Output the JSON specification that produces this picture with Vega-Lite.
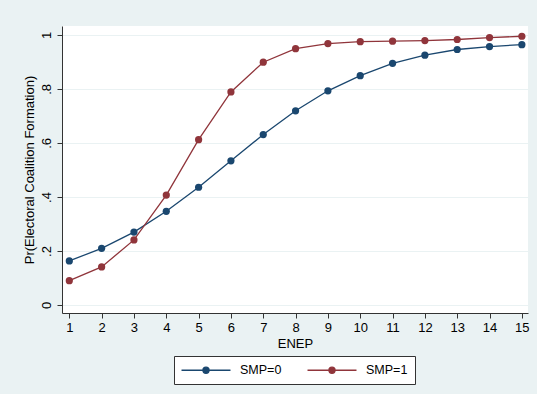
{
  "$schema": "https://vega.github.io/schema/vega-lite/v6.json",
  "width": 466,
  "height": 287,
  "autosize": {"type": "none"},
  "padding": {"left": 62, "top": 26, "right": 9, "bottom": 81},
  "background": "#eaf2f3",
  "config": {
    "view": {"stroke": null, "fill": "white"},
    "font": "Liberation Sans",
    "axis": {"labelFont": "Liberation Sans", "titleFont": "Liberation Sans", "labelFontSize": 13, "titleFontSize": 13, "titleFontWeight": "normal", "labelColor": "#000", "titleColor": "#000", "domainColor": "#333", "tickColor": "#333", "tickSize": 5, "domainWidth": 1, "tickWidth": 1}
  },
  "data": {"values": [
    {"ENEP": 1, "SMP": "SMP=0", "p": 0.163},
    {"ENEP": 2, "SMP": "SMP=0", "p": 0.21},
    {"ENEP": 3, "SMP": "SMP=0", "p": 0.27},
    {"ENEP": 4, "SMP": "SMP=0", "p": 0.347},
    {"ENEP": 5, "SMP": "SMP=0", "p": 0.436},
    {"ENEP": 6, "SMP": "SMP=0", "p": 0.534},
    {"ENEP": 7, "SMP": "SMP=0", "p": 0.631},
    {"ENEP": 8, "SMP": "SMP=0", "p": 0.719},
    {"ENEP": 9, "SMP": "SMP=0", "p": 0.793},
    {"ENEP": 10, "SMP": "SMP=0", "p": 0.849},
    {"ENEP": 11, "SMP": "SMP=0", "p": 0.895},
    {"ENEP": 12, "SMP": "SMP=0", "p": 0.925},
    {"ENEP": 13, "SMP": "SMP=0", "p": 0.946},
    {"ENEP": 14, "SMP": "SMP=0", "p": 0.957},
    {"ENEP": 15, "SMP": "SMP=0", "p": 0.964},
    {"ENEP": 1, "SMP": "SMP=1", "p": 0.09},
    {"ENEP": 2, "SMP": "SMP=1", "p": 0.141},
    {"ENEP": 3, "SMP": "SMP=1", "p": 0.241},
    {"ENEP": 4, "SMP": "SMP=1", "p": 0.407},
    {"ENEP": 5, "SMP": "SMP=1", "p": 0.612},
    {"ENEP": 6, "SMP": "SMP=1", "p": 0.789},
    {"ENEP": 7, "SMP": "SMP=1", "p": 0.899},
    {"ENEP": 8, "SMP": "SMP=1", "p": 0.949},
    {"ENEP": 9, "SMP": "SMP=1", "p": 0.968},
    {"ENEP": 10, "SMP": "SMP=1", "p": 0.975},
    {"ENEP": 11, "SMP": "SMP=1", "p": 0.977},
    {"ENEP": 12, "SMP": "SMP=1", "p": 0.979},
    {"ENEP": 13, "SMP": "SMP=1", "p": 0.983},
    {"ENEP": 14, "SMP": "SMP=1", "p": 0.99},
    {"ENEP": 15, "SMP": "SMP=1", "p": 0.995}
  ]},
  "mark": {"type": "line", "strokeWidth": 1.3, "point": {"filled": true, "size": 52, "opacity": 1}},
  "encoding": {
    "x": {"field": "ENEP", "type": "quantitative", "title": "ENEP",
      "scale": {"domain": [0.774, 15.19], "nice": false, "zero": false},
      "axis": {"values": [1,2,3,4,5,6,7,8,9,10,11,12,13,14,15], "grid": false, "labelPadding": 3, "titlePadding": 3}},
    "y": {"field": "p", "type": "quantitative", "title": "Pr(Electoral Coalition Formation)",
      "scale": {"domain": [-0.0296, 1.033], "nice": false, "zero": false},
      "axis": {"values": [0, 0.2, 0.4, 0.6, 0.8, 1], "grid": true, "gridColor": "#eaf2f3", "gridWidth": 1.2, "labelAngle": 270,
        "labelExpr": "datum.value == 0 ? '0' : datum.value == 1 ? '1' : replace(format(datum.value, '.1f'), '0.', '.')",
        "labelPadding": 4, "titlePadding": 4}},
    "color": {"field": "SMP", "type": "nominal",
      "scale": {"domain": ["SMP=0", "SMP=1"], "range": ["#1a476f", "#90353b"]},
      "legend": {"title": null, "orient": "none", "legendX": 112, "legendY": 330, "direction": "horizontal",
        "fillColor": "white", "strokeColor": "#333", "padding": 7,
        "labelFont": "Liberation Sans", "labelFontSize": 12.5, "labelColor": "#000",
        "symbolType": "M-4,0H4M-0.5,0A0.5,0.5,0,1,0,0.5,0A0.5,0.5,0,1,0,-0.5,0Z",
        "symbolSize": 150, "symbolStrokeWidth": 1.3, "symbolOffset": 18, "labelOffset": 27, "columnPadding": 22,
        "encode": {"symbols": {"update": {"fill": {"scale": "color", "field": "value"}, "stroke": {"scale": "color", "field": "value"}, "opacity": {"value": 1}}}}}}
  }
}
